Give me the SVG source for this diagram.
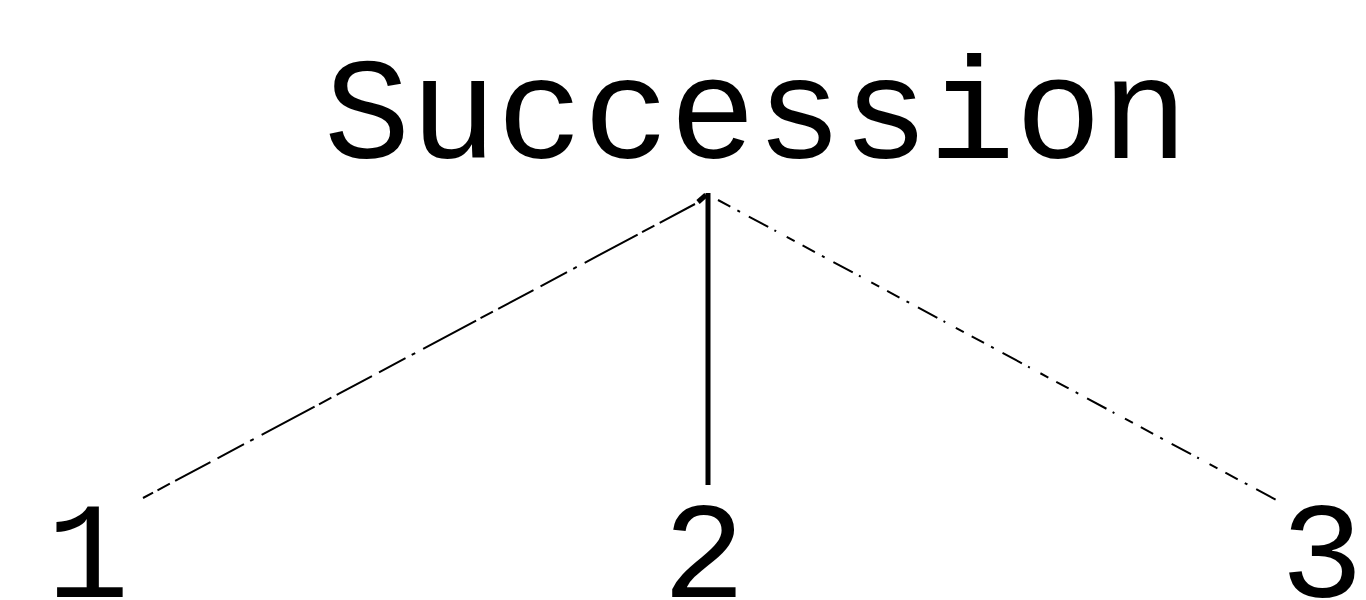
<svg xmlns="http://www.w3.org/2000/svg" width="1366" height="600" viewBox="0 0 1366 600">
<style>
.t{font-family:"Courier New","Nimbus Mono PS","Liberation Mono",monospace;fill:#000;text-anchor:middle}
.title{font-size:144px}
.num{font-size:138px}
.solid{stroke:#000;stroke-width:5;fill:none}
.thin{stroke:#000;stroke-width:2;fill:none}
</style>
<rect width="1366" height="600" fill="#fff"/>
<g id="connectors">
<path class="thin" d="M695,204 L143,498" stroke-dasharray="40 6 14 5 60 9 4 7 30 8"/>
<path class="thin" d="M718,200 L1280,502" stroke-dasharray="14 8 3 10 22 7 2 12 9 9"/>
<path class="solid" d="M708,193 L708,485"/>
<path class="solid" d="M698,202 L706,195" stroke-width="4"/>
</g>
<g id="node-succession"><text class="t title" x="756" y="158">Succession</text></g>
<g id="node-1"><text class="t num" x="88" y="597">1</text></g>
<g id="node-2"><text class="t num" x="704" y="597">2</text></g>
<g id="node-3"><text class="t num" x="1322" y="597">3</text></g>
</svg>
